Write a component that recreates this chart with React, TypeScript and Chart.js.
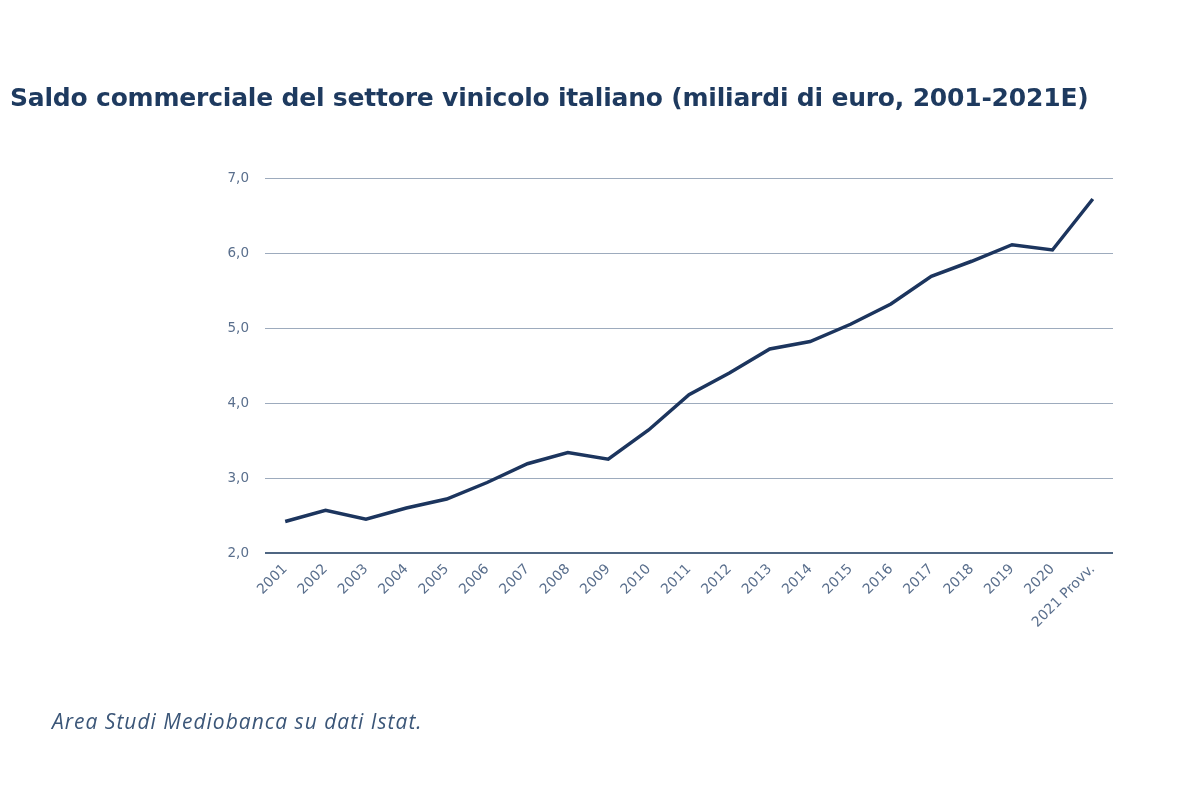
import React, { useEffect, useRef } from "react";
import { Chart, registerables } from "chart.js";

Chart.register(...registerables);

const categories: string[] = [
  "2001", "2002", "2003", "2004", "2005", "2006", "2007", "2008", "2009", "2010",
  "2011", "2012", "2013", "2014", "2015", "2016", "2017", "2018", "2019", "2020",
  "2021 Provv.",
];

const saldo: number[] = [
  2.42, 2.57, 2.45, 2.6, 2.72, 2.94, 3.19, 3.34, 3.25, 3.64,
  4.11, 4.4, 4.72, 4.82, 5.05, 5.32, 5.69, 5.89, 6.11, 6.04,
  6.72,
];

const yMin = 2;
const yMax = 7;
const yStep = 1;

const titleText = "Saldo commerciale del settore vinicolo italiano (miliardi di euro, 2001-2021E)";
const sourceText = "Area Studi Mediobanca su dati Istat.";

const NAVY = "#1c355e";
const TICK = "#5a6f8d";

export default function App() {
  const canvasRef = useRef<HTMLCanvasElement | null>(null);

  useEffect(() => {
    if (!canvasRef.current) return;
    const chart = new Chart(canvasRef.current, {
      type: "line",
      data: {
        labels: categories,
        datasets: [
          {
            label: "Saldo commerciale",
            data: saldo,
            borderColor: NAVY,
            backgroundColor: NAVY,
            borderWidth: 3.5,
            pointRadius: 0,
            tension: 0,
            fill: false,
          },
        ],
      },
      options: {
        responsive: false,
        animation: false,
        devicePixelRatio: 1,
        layout: { padding: { top: 178, right: 87, bottom: 0, left: 0 } },
        plugins: {
          legend: { display: false },
          title: { display: false },
          tooltip: { enabled: false },
        },
        scales: {
          x: {
            offset: true,
            grid: { display: false, drawTicks: false },
            border: { display: false },
            afterFit: (scale: any) => {
              scale.height = 247;
            },
            ticks: {
              autoSkip: false,
              maxRotation: 45,
              minRotation: 45,
              padding: 8,
              color: TICK,
              font: { family: "DejaVu Sans", size: 14 },
            },
          },
          y: {
            min: yMin,
            max: yMax,
            afterFit: (scale: any) => {
              scale.width = 265;
            },
            border: { display: false },
            grid: {
              drawTicks: false,
              color: (ctx: any) => (ctx.tick && ctx.tick.value === yMin ? "#4f6682" : "#9dabbd"),
              lineWidth: (ctx: any) => (ctx.tick && ctx.tick.value === yMin ? 2 : 1),
            },
            ticks: {
              stepSize: yStep,
              padding: 16,
              color: TICK,
              font: { family: "DejaVu Sans", size: 13.5 },
              callback: (v: any) => Number(v).toFixed(1).replace(".", ","),
            },
          },
        },
      },
    });
    return () => chart.destroy();
  }, []);

  return (
    <div
      style={{
        position: "fixed",
        left: 0,
        top: 0,
        width: 1200,
        height: 800,
        background: "#ffffff",
        overflow: "hidden",
      }}
    >
      <canvas
        ref={canvasRef}
        width={1200}
        height={800}
        style={{ position: "absolute", left: 0, top: 0, width: 1200, height: 800 }}
      />
      <div
        style={{
          position: "absolute",
          left: 10,
          top: 81,
          fontFamily: "DejaVu Sans",
          fontWeight: "bold",
          fontSize: 25,
          letterSpacing: -0.2,
          color: "#1e3a5f",
          whiteSpace: "nowrap",
          lineHeight: "34px",
        }}
      >
        {titleText}
      </div>
      <div
        style={{
          position: "absolute",
          left: 52,
          top: 706,
          fontFamily: "'Open Sans'",
          fontStyle: "italic",
          fontSize: 21,
          letterSpacing: 1,
          color: "#3b5678",
          whiteSpace: "nowrap",
          lineHeight: "30px",
        }}
      >
        {sourceText}
      </div>
    </div>
  );
}
